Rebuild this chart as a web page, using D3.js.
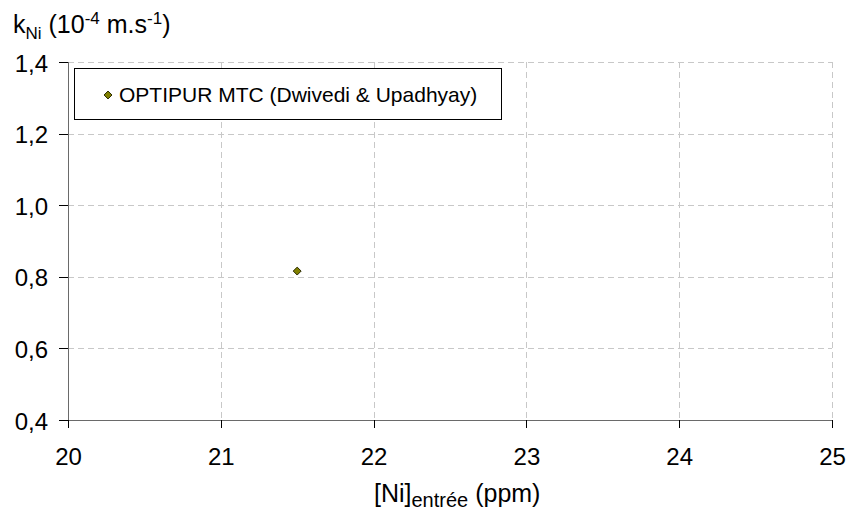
<!DOCTYPE html>
<html><head><meta charset="utf-8">
<script src="https://cdn.jsdelivr.net/npm/d3@7"></script>
<style>body{margin:0;background:#fff}svg{display:block;font-family:"Liberation Sans",Arial,sans-serif}</style>
</head><body>
<script>
const seriesName = "OPTIPUR MTC (Dwivedi & Upadhyay)";
const xValues = [21.5];
const yValues = [0.816];
const xTicks = [20, 21, 22, 23, 24, 25];
const yTicks = [0.4, 0.6, 0.8, 1.0, 1.2, 1.4];

const W = 847, H = 513;
const svg = d3.select("body").append("svg").attr("width", W).attr("height", H);
const x = d3.scaleLinear().domain([20, 25]).range([68, 832]);
const y = d3.scaleLinear().domain([0.4, 1.4]).range([420, 62]);
const fmt = d => d3.format(".1f")(d).replace(".", ",");

// gridlines
svg.append("g").selectAll("line").data(yTicks.filter(d => d > 0.4)).join("line")
  .attr("x1", 68).attr("x2", 832).attr("y1", d => Math.round(y(d)) + 0.5).attr("y2", d => Math.round(y(d)) + 0.5)
  .attr("stroke", "#c8c8c8").attr("stroke-dasharray", "6,4");
svg.append("g").selectAll("line").data(xTicks.filter(d => d > 20)).join("line")
  .attr("y1", 62).attr("y2", 420).attr("x1", d => Math.round(x(d)) + 0.5).attr("x2", d => Math.round(x(d)) + 0.5)
  .attr("stroke", "#c8c8c8").attr("stroke-dasharray", "6,4");

// axes
const xAxis = svg.append("g").attr("transform", "translate(0,420)")
  .call(d3.axisBottom(x).tickValues(xTicks).tickSize(8).tickPadding(20).tickFormat(d3.format("d")));
const yAxis = svg.append("g").attr("transform", "translate(68,0)")
  .call(d3.axisLeft(y).tickValues(yTicks).tickSize(9).tickPadding(11).tickFormat(fmt));
[xAxis, yAxis].forEach(a => {
  a.select(".domain").attr("stroke", "#6a6a6a").attr("shape-rendering", "crispEdges");
  a.selectAll(".tick line").attr("stroke", "#000").attr("shape-rendering", "crispEdges");
  a.selectAll("text").attr("font-size", 24).attr("fill", "#000").attr("font-family", "Liberation Sans, Arial, sans-serif");
});
yAxis.selectAll("text").attr("dy", "0.38em");
xAxis.select(".domain").attr("d", "M68,0.5H832");
yAxis.select(".domain").attr("d", "M0.5,62V420");

// points
const diamond = d3.symbol().type(d3.symbolDiamond2).size(40);
svg.append("g").selectAll("path").data(xValues.map((v, i) => [v, yValues[i]])).join("path")
  .attr("d", diamond).attr("transform", d => `translate(${x(d[0])},${y(d[1])})`)
  .attr("fill", "#808000").attr("stroke", "#2a2a00").attr("stroke-width", 1);

// legend
const lg = svg.append("g");
lg.append("rect").attr("x", 74.5).attr("y", 68.5).attr("width", 427).attr("height", 51)
  .attr("fill", "#fff").attr("stroke", "#000");
lg.append("path").attr("d", diamond).attr("transform", "translate(108,95)")
  .attr("fill", "#808000").attr("stroke", "#2a2a00");
lg.append("text").attr("x", 119).attr("y", 102).attr("font-size", 21).text(seriesName);

// y title
const yt = svg.append("text").attr("x", 13).attr("y", 33).attr("font-size", 25);
yt.append("tspan").text("k");
yt.append("tspan").attr("font-size", 17).attr("dy", 6).text("Ni");
yt.append("tspan").attr("dy", -6).text(" (10");
yt.append("tspan").attr("font-size", 17).attr("dy", -9).text("-4");
yt.append("tspan").attr("dy", 9).text(" m.s");
yt.append("tspan").attr("font-size", 17).attr("dy", -9).text("-1");
yt.append("tspan").attr("dy", 9).text(")");

// x title
const xt = svg.append("text").attr("x", 374).attr("y", 502).attr("font-size", 25);
xt.append("tspan").text("[Ni]");
xt.append("tspan").attr("font-size", 20).attr("dy", 5).text("entrée");
xt.append("tspan").attr("dy", -5).text(" (ppm)");
</script>
</body></html>
